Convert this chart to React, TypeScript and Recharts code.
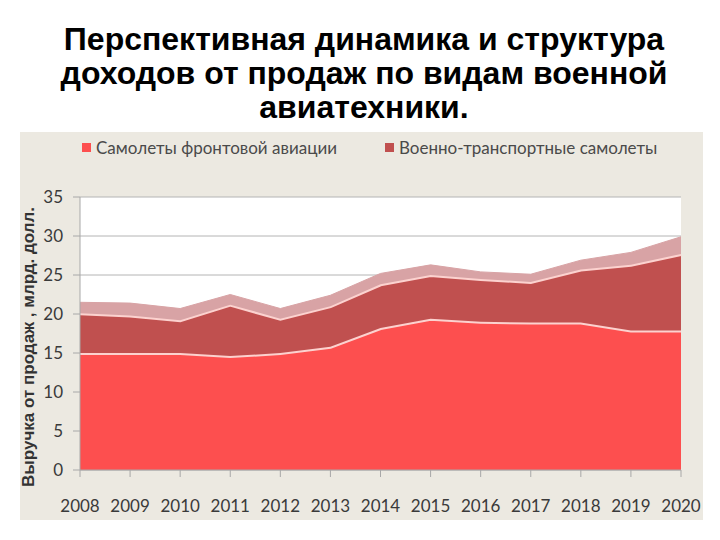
import { AreaChart, Area, XAxis, YAxis, CartesianGrid, Legend } from 'recharts';

const years = ['2008', '2009', '2010', '2011', '2012', '2013', '2014', '2015', '2016', '2017', '2018', '2019', '2020'];
const frontline = [15, 15, 15, 14.6, 15, 15.8, 18.2, 19.4, 19, 18.9, 18.9, 17.9, 17.9];
const transport = [5.1, 4.8, 4.2, 6.6, 4.4, 5.2, 5.6, 5.6, 5.5, 5.2, 6.8, 8.4, 9.8];
const other = [1.4, 1.6, 1.5, 1.3, 1.3, 1.4, 1.4, 1.3, 0.9, 1.0, 1.2, 1.6, 2.2];
const yTicks = [0, 5, 10, 15, 20, 25, 30, 35];

const data = years.map((year, i) => ({
  year,
  frontline: frontline[i],
  transport: transport[i],
  other: other[i],
}));

const colors: Record<string, string> = {
  frontline: '#fd4f4f',
  transport: '#c0504f',
  other: '#d8a3a5',
};
const legendOrder = ['frontline', 'transport'];

const tickFont = { fontFamily: 'Lato, "Open Sans", sans-serif', fontSize: 17, fill: '#3a3a3a' };

function LegendRow({ payload }: any) {
  const items = (payload || [])
    .filter((p: any) => legendOrder.includes(p.dataKey))
    .sort((a: any, b: any) => legendOrder.indexOf(a.dataKey) - legendOrder.indexOf(b.dataKey));
  return (
    <div style={{ display: 'flex', whiteSpace: 'nowrap' }}>
      {items.map((p: any) => (
        <div key={p.dataKey} style={{ display: 'flex', alignItems: 'center', marginRight: 48 }}>
          <span style={{ display: 'inline-block', width: 9, height: 9, background: colors[p.dataKey], marginRight: 5 }} />
          <span style={{ color: '#4a4a4a', fontFamily: 'Lato, "Open Sans", sans-serif', fontSize: 17 }}>{p.value}</span>
        </div>
      ))}
    </div>
  );
}

export default function App() {
  return (
    <div style={{ position: 'absolute', left: 0, top: 0, width: 720, height: 540, background: '#fff' }}>
      <div
        style={{
          position: 'absolute',
          left: 4,
          top: 22,
          width: 720,
          textAlign: 'center',
          fontFamily: '"Liberation Sans", Arial, sans-serif',
          fontWeight: 'bold',
          fontSize: 32,
          lineHeight: '34px',
          color: '#000',
        }}
      >
        Перспективная динамика и структура
        <br />
        доходов от продаж по видам военной
        <br />
        авиатехники.
      </div>
      <div style={{ position: 'absolute', left: 20, top: 132, width: 683, height: 388, background: '#ece9e1' }}>
        <AreaChart width={683} height={388} data={data} margin={{ top: 65, right: 22, bottom: 20, left: 0 }}>
          <CartesianGrid vertical={false} stroke="#b4b4b4" fill="#ffffff" />
          <XAxis
            dataKey="year"
            stroke="#a8a8a8"
            tickSize={7}
            tickMargin={23}
            tick={tickFont}
            interval={0}
            height={30}
          />
          <YAxis
            domain={[0, 35]}
            ticks={yTicks}
            stroke="#a8a8a8"
            tickSize={7}
            tickMargin={10}
            tick={tickFont}
            width={60}
          />
          <Legend
            layout="horizontal"
            verticalAlign="middle"
            align="center"
            wrapperStyle={{ top: 5, left: 62, width: 'auto' }}
            content={LegendRow}
          />
          <Area
            type="linear"
            dataKey="frontline"
            name="Самолеты фронтовой авиации"
            stackId="a"
            fill={colors.frontline}
            fillOpacity={1}
            stroke="#fcd2cf"
            strokeWidth={4}
            isAnimationActive={false}
          />
          <Area
            type="linear"
            dataKey="transport"
            name="Военно-транспортные самолеты"
            stackId="a"
            fill={colors.transport}
            fillOpacity={1}
            stroke="#fcd2cf"
            strokeWidth={4}
            isAnimationActive={false}
          />
          <Area
            type="linear"
            dataKey="other"
            name="Прочие"
            stackId="a"
            fill={colors.other}
            fillOpacity={1}
            stroke={colors.other}
            strokeWidth={1}
            legendType="none"
            isAnimationActive={false}
          />
        </AreaChart>
      </div>
      <div
        style={{
          position: 'absolute',
          left: 29 - 150,
          top: 347 - 10,
          width: 300,
          height: 20,
          lineHeight: '20px',
          textAlign: 'center',
          transform: 'rotate(-90deg)',
          fontFamily: '"Liberation Sans", Arial, sans-serif',
          fontWeight: 'bold',
          fontSize: 17,
          color: '#333',
          whiteSpace: 'nowrap',
        }}
      >
        Выручка от продаж , млрд. долл.
      </div>
    </div>
  );
}
